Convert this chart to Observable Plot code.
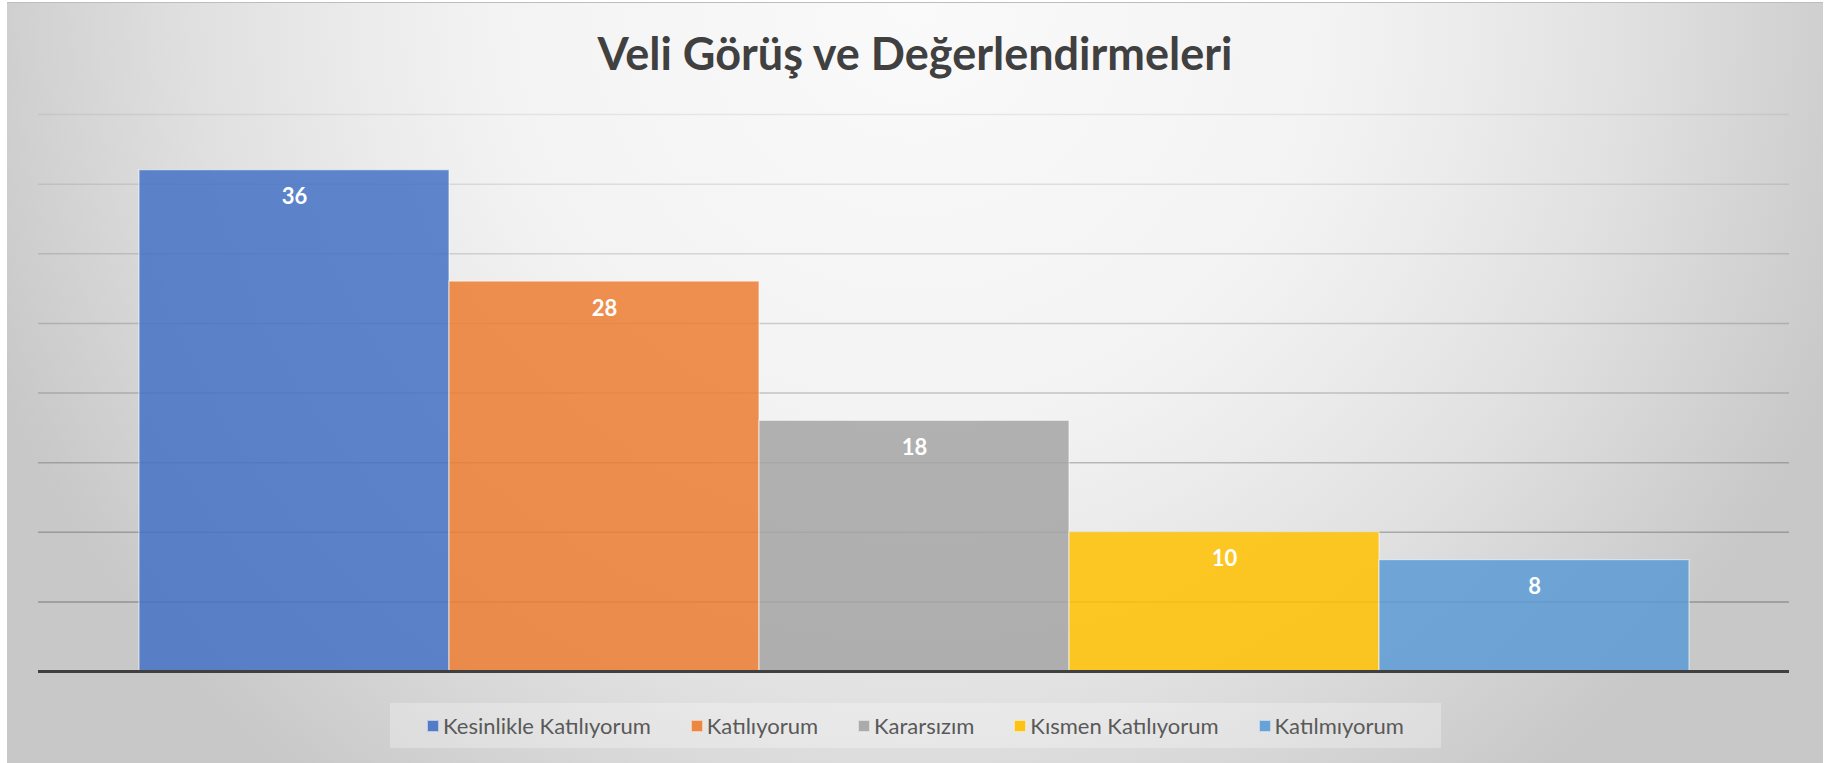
<!DOCTYPE html>
<html>
<head>
<meta charset="utf-8">
<script src="https://cdn.jsdelivr.net/npm/d3@7"></script>
<script src="https://cdn.jsdelivr.net/npm/@observablehq/plot@0.6"></script>
<style>
  html, body { margin: 0; padding: 0; background: #ffffff; }
  #frame {
    position: absolute; left: 7px; top: 2px; width: 1816px; height: 761px;
    border-top: 1px solid #bdbdbd; box-sizing: border-box;
    background: radial-gradient(circle at 50% 0%, #fafafa 0px, #f3f3f3 420px, #ebebeb 560px, #e0e0e0 720px, #c8c8c8 990px);
    overflow: hidden;
  }
  #title {
    height: 99px; box-sizing: border-box; padding-top: 28px;
    text-align: center; font-family: Lato, sans-serif; font-weight: 700;
    font-size: 45px; line-height: 44px; color: #404040;
  }
  #chart svg { display: block; }
  #legendwrap { position: relative; height: 59px; }
  #legend {
    position: absolute; left: 383px; top: 1px; width: 1051px; height: 45px;
    background: rgba(255,255,255,0.28);
    display: flex; align-items: center; justify-content: center; gap: 40px;
    font-family: Lato, sans-serif; font-size: 22px; color: #595959;
  }
  .item { display: flex; align-items: center; gap: 4px; }
  .sw { width: 10px; height: 10px; border: 1px solid rgba(255,255,255,0.6); }
</style>
</head>
<body>
<div id="frame">
  <div id="title">Veli Görüş ve Değerlendirmeleri</div>
  <div id="chart"></div>
  <div id="legendwrap"><div id="legend"></div></div>
</div>
<script>
const categories = ["Kesinlikle Katılıyorum", "Katılıyorum", "Kararsızım", "Kısmen Katılıyorum", "Katılmıyorum"];
const values = [36, 28, 18, 10, 8];
const colors = ["#4472C4", "#ED7D31", "#A5A5A5", "#FFC000", "#5B9BD5"];
const gridTicks = [5, 10, 15, 20, 25, 30, 35, 40];

const data = categories.map((c, i) => ({cat: c, value: values[i]}));

const chart = Plot.plot({
  width: 1816,
  height: 600,
  marginTop: 12,
  marginBottom: 31,
  marginLeft: 31,
  marginRight: 34,
  style: {background: "transparent", overflow: "visible"},
  x: {domain: categories, paddingInner: 0, paddingOuter: 0.32, axis: null},
  y: {domain: [0, 40], axis: null},
  color: {domain: categories, range: colors},
  marks: [
    Plot.ruleY(gridTicks, {
      stroke: "#595959",
      strokeWidth: 1.5,
      strokeOpacity: d => 0.47 - (d - 5) / 35 * 0.37
    }),
    Plot.barY(data, {
      x: "cat", y: "value", fill: "cat", fillOpacity: 0.85,
      stroke: "#ffffff", strokeOpacity: 0.55, strokeWidth: 1.2
    }),
    Plot.text(data, {
      x: "cat", y: "value", text: d => String(d.value), dy: 27,
      fill: "#ffffff", fontSize: 22, fontWeight: 700, fontFamily: "Lato, sans-serif",
      lineAnchor: "middle"
    }),
    Plot.ruleY([0], {stroke: "#404040", strokeWidth: 3})
  ]
});
document.getElementById("chart").appendChild(chart);

const legend = document.getElementById("legend");
categories.forEach((c, i) => {
  const it = document.createElement("div");
  it.className = "item";
  const sw = document.createElement("div");
  sw.className = "sw";
  sw.style.background = colors[i];
  sw.style.opacity = 0.9;
  const tx = document.createElement("span");
  tx.textContent = c;
  it.appendChild(sw); it.appendChild(tx);
  legend.appendChild(it);
});
</script>
</body>
</html>
